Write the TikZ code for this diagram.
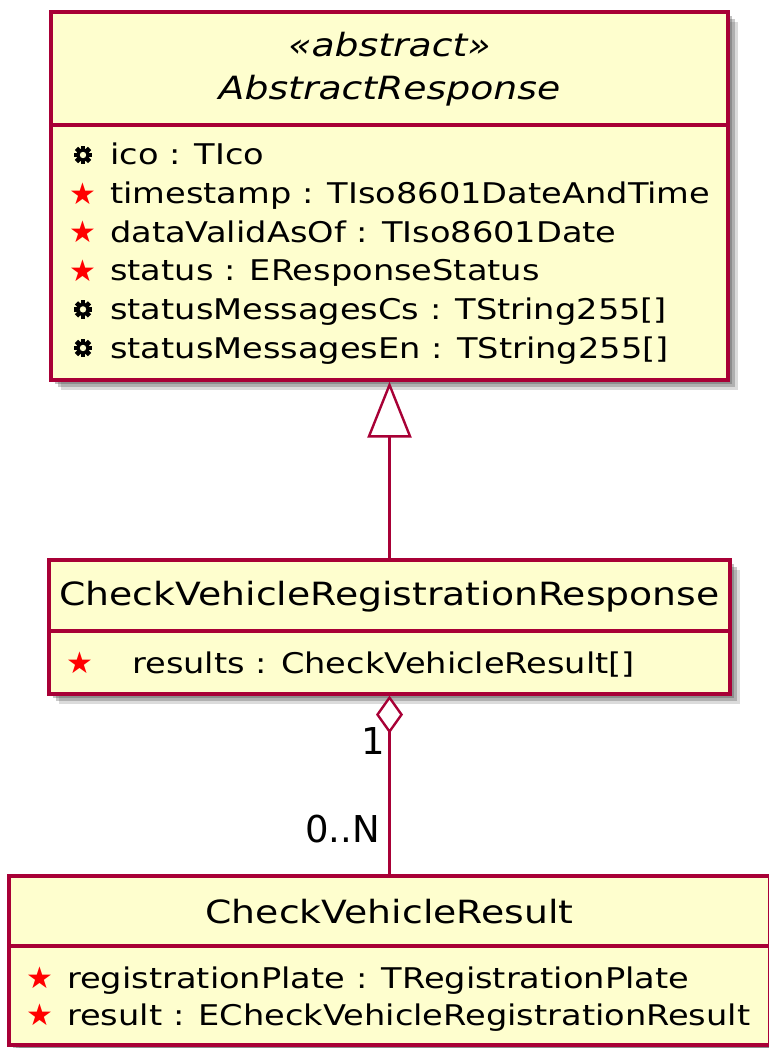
\documentclass[tikz,border=0pt]{standalone}
\usepackage{fontspec}
\setmainfont{DejaVu Sans}[FakeStretch=1.18]
\newfontfamily\plainfont{DejaVu Sans}
\usepackage{tikz}
\usetikzlibrary{arrows.meta,fit,shadows}
\definecolor{umlfill}{HTML}{FEFECE}
\definecolor{umlred}{HTML}{A80036}
\newcommand{\attrstar}{{\plainfont\fontsize{30}{30}\selectfont\color{red}★}}
\newcommand{\attrcog}{\tikz[x=1pt,y=1pt]{\fill (0,0) circle (6.6);
  \foreach \a in {0,45,...,315} \fill[rotate=\a] (-2.3,5) rectangle (2.3,9.2);
  \fill[umlfill] (0,0) circle (3.2);}}

\begin{document}
\begin{tikzpicture}[x=1pt,y=-1pt,
  umlbox/.style={draw=umlred,fill=umlfill,line width=3.2pt,inner sep=0pt,
    drop shadow={shadow xshift=4pt,shadow yshift=-4pt,fill=black!70,opacity=.35},
    drop shadow={shadow xshift=7pt,shadow yshift=-7pt,fill=black!70,opacity=.3},
    drop shadow={shadow xshift=10pt,shadow yshift=-10pt,fill=black!70,opacity=.2}},
  sepline/.style={draw=umlred,line width=3.2pt},
  clsname/.style={anchor=base,inner sep=0pt,font=\fontsize{32}{38}\selectfont},
  attr/.style={anchor=base west,inner sep=0pt,font=\fontsize{28.5}{34}\selectfont},
  icon/.style={inner sep=0pt},
  mult/.style={anchor=base east,inner sep=0pt,font=\plainfont\fontsize{37}{40}\selectfont},
  genline/.style={draw=umlred,line width=2.4pt,-{Triangle[open,fill=white,length=56pt,width=44pt]}},
  aggline/.style={draw=umlred,line width=2.4pt,-{Diamond[open,fill=white,length=38pt,width=27pt]}}]
\useasboundingbox (0,0) rectangle (768,1048);

% AbstractResponse
\node[umlbox,fit={(51,12)(728,380)}] (abs) {};
\draw[sepline] (abs.west |- 0,125) -- (abs.east |- 0,125);
\node[clsname,font=\fontsize{32}{38}\selectfont\itshape] (absstereo) at (389.5,57) {«abstract»};
\node[clsname,font=\fontsize{32}{38}\selectfont\itshape] (absname) at (389.5,100) {AbstractResponse};
\node[icon] (absi1) at (83,155) {\attrcog};
\node[attr] (absa1) at (110,165) {ico : TIco};
\node[icon] (absi2) at (83,193.6) {\attrstar};
\node[attr] (absa2) at (110,203.6) {timestamp : TIso8601DateAndTime};
\node[icon] (absi3) at (83,232.2) {\attrstar};
\node[attr] (absa3) at (110,242.2) {dataValidAsOf : TIso8601Date};
\node[icon] (absi4) at (83,270.8) {\attrstar};
\node[attr] (absa4) at (110,280.8) {status : EResponseStatus};
\node[icon] (absi5) at (83,309.4) {\attrcog};
\node[attr] (absa5) at (110,319.4) {statusMessagesCs : TString255[]};
\node[icon] (absi6) at (83,348) {\attrcog};
\node[attr] (absa6) at (110,358) {statusMessagesEn : TString255[]};

% CheckVehicleRegistrationResponse
\node[umlbox,fit={(49,560)(730,694)}] (resp) {};
\draw[sepline] (resp.west |- 0,631) -- (resp.east |- 0,631);
\node[clsname] (respname) at (389.5,605) {CheckVehicleRegistrationResponse};
\node[icon] (respi1) at (80,663) {\attrstar};
\node[attr] (respa1) at (132,673) {results : CheckVehicleResult[]};

% CheckVehicleResult
\node[umlbox,fit={(9,876)(770,1045)}] (res) {};
\draw[sepline] (res.west |- 0,946) -- (res.east |- 0,946);
\node[clsname] (resname) at (389.5,923) {CheckVehicleResult};
\node[icon] (resi1) at (40,978) {\attrstar};
\node[attr] (resa1) at (67,988) {registrationPlate : TRegistrationPlate};
\node[icon] (resi2) at (40,1015) {\attrstar};
\node[attr] (resa2) at (67,1025) {result : ECheckVehicleRegistrationResult};

% relations
\draw[genline] (resp.north) -- (resp.north |- abs.south);
\draw[aggline] (res.north) -- (res.north |- resp.south);
\node[mult] (multone) at (385,754) {1};
\node[mult] (multmany) at (380,842) {0..N};
\end{tikzpicture}
\end{document}
